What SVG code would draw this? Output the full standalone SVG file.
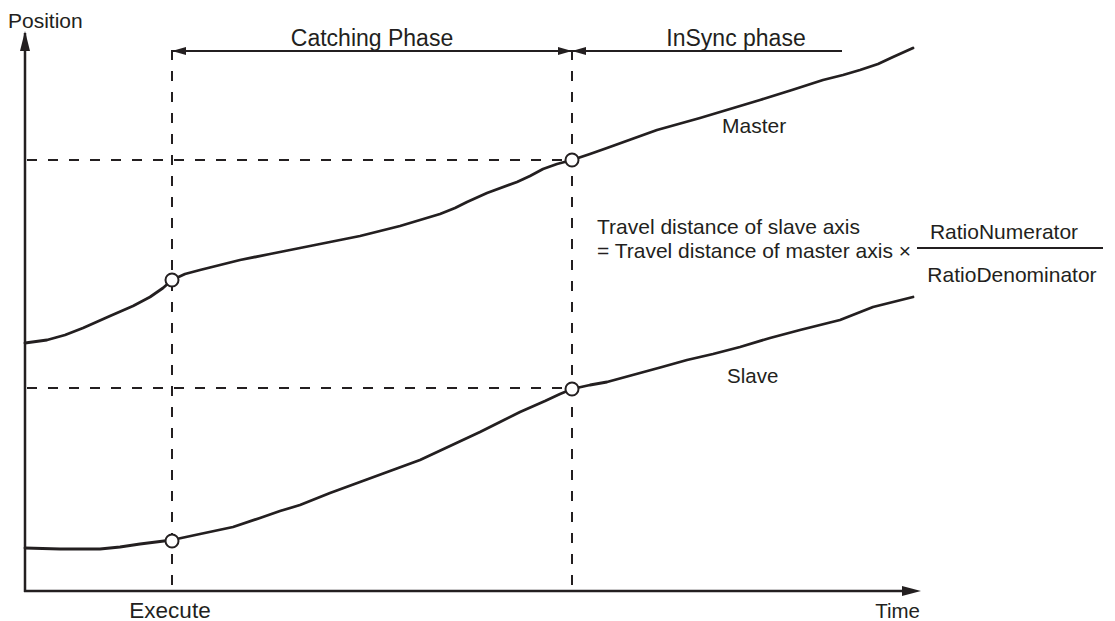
<svg xmlns="http://www.w3.org/2000/svg" width="1115" height="621" viewBox="0 0 1115 621">
<defs>
<style>
text{font-family:"Liberation Sans",Arial,sans-serif;fill:#231f20}
.axis{stroke:#231f20;stroke-width:2.5;fill:none}
.dash{stroke:#231f20;stroke-width:2;stroke-dasharray:10 11;fill:none}
.curve{stroke:#231f20;stroke-width:2.8;fill:none;stroke-linejoin:round;stroke-linecap:round}
.dim{stroke:#231f20;stroke-width:1.8;fill:none}
.pt{fill:#fff;stroke:#231f20;stroke-width:2}
</style>
<marker id="ah" viewBox="0 0 14 8" refX="14" refY="4" markerWidth="14" markerHeight="8" markerUnits="userSpaceOnUse" orient="auto-start-reverse">
<path d="M0,0 L14,4 L0,8 Z" fill="#231f20"/>
</marker>
</defs>
<g id="connectors">
<line class="dash" x1="172" y1="50" x2="172" y2="590"/>
<line class="dash" x1="572" y1="50" x2="572" y2="590"/>
<line class="dash" x1="27" y1="160" x2="572" y2="160"/>
<line class="dash" x1="27" y1="388" x2="572" y2="388"/>
<line class="dim" x1="172" y1="51" x2="572" y2="51" marker-start="url(#ah)" marker-end="url(#ah)"/>
<line class="dim" x1="572" y1="51" x2="842" y2="51" marker-start="url(#ah)"/>
</g>
<g id="axes">
<line class="axis" x1="25" y1="592" x2="25" y2="33"/>
<path d="M25,31 L20,51 L30,51 Z" fill="#231f20"/>
<line class="axis" x1="24" y1="591" x2="903" y2="591"/>
<path d="M921,591 L902,586 L902,596 Z" fill="#231f20"/>
<text x="8" y="28" font-size="21">Position</text>
<text x="920" y="618" font-size="20.5" text-anchor="end">Time</text>
<text x="170" y="618" font-size="22.5" text-anchor="middle">Execute</text>
</g>
<g id="phases">
<text x="372" y="46" font-size="23" text-anchor="middle">Catching Phase</text>
<text x="736" y="46" font-size="23" text-anchor="middle">InSync phase</text>
</g>
<g id="master">
<polyline class="curve" points="25,343 47,340 65,335 83,328 110,316 133,306 150,297 163,288 172,280 185,274 200,270 220,265 240,260 270,254 300,248 330,242 360,236 380,231 400,226 420,220 440,214 455,208 467,202 487,193 517,182 530,176 543,169 557,164 572,160 590,154 607,148 632,139 657,130 700,118 730,109 760,100 792,90 823,80 843,75 860,70 878,64 893,57 913,48"/>
<circle class="pt" cx="172" cy="280" r="6.5"/>
<circle class="pt" cx="572" cy="160" r="6.5"/>
<text x="722" y="133" font-size="21">Master</text>
</g>
<g id="slave">
<polyline class="curve" points="25,548 60,549 100,549 120,547 140,544 172,540 200,534 233,527 260,518 280,511 300,505 330,493 360,482 390,471 420,460 450,446 480,432 500,422 520,412 545,401 560,394 572,389 590,385 607,382 640,373 662,367 687,360 713,354 740,347 770,338 800,330 840,320 873,307 913,297"/>
<circle class="pt" cx="172" cy="541" r="6.5"/>
<circle class="pt" cx="572" cy="389" r="6.5"/>
<text x="727" y="383" font-size="20.5">Slave</text>
</g>
<g id="formula">
<text x="597" y="234" font-size="21">Travel distance of slave axis</text>
<text x="597" y="258" font-size="21">= Travel distance of master axis ×</text>
<text x="1004" y="239" font-size="21" text-anchor="middle">RatioNumerator</text>
<line x1="917" y1="248" x2="1103" y2="248" stroke="#231f20" stroke-width="1.8"/>
<text x="1012" y="282" font-size="21" text-anchor="middle">RatioDenominator</text>
</g>
</svg>
